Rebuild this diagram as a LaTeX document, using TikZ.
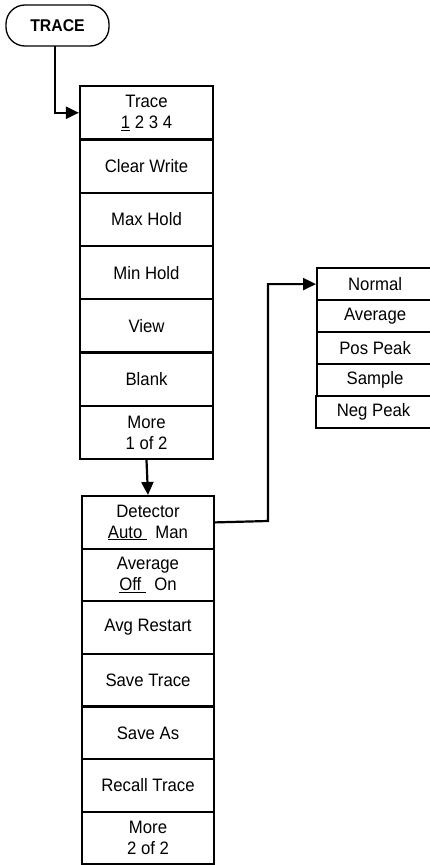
\documentclass[tikz,border=0pt]{standalone}
\usepackage{fontspec}
\setmainfont{Liberation Sans}[FakeStretch=0.93]
\usetikzlibrary{arrows.meta}
\begin{document}
\begin{tikzpicture}[x=1pt,y=-1pt,
  cellA/.style={draw,line width=2.2pt,rectangle,minimum width=133pt,minimum height=53.3pt,anchor=north,inner sep=0pt,font=\fontsize{18}{21}\selectfont,align=center},
  cellB/.style={cellA,minimum width=132pt,minimum height=52.6pt},
  cellR/.style={draw,line width=2.2pt,rectangle,minimum width=116pt,minimum height=32pt,anchor=north west,inner sep=0pt,font=\fontsize{18}{21}\selectfont,align=center},
  pill/.style={draw,line width=1.3pt,rectangle,rounded corners=19pt,minimum width=103pt,minimum height=41pt,inner sep=0pt,font=\bfseries\fontsize{17}{18}\selectfont},
  conn/.style={line width=2.2pt,-{Triangle[length=13pt,width=12pt]}}
]
\clip (0,0) rectangle (430,865);
\node[pill] (trace) at (57.5,25.5) {TRACE};
% column 1
\node[cellA] (a1) at (146.5,85) {Trace\\\underline{1} 2 3 4};
\node[cellA] (a2) at (146.5,138.3) {Clear Write};
\node[cellA] (a3) at (146.5,191.6) {Max Hold};
\node[cellA] (a4) at (146.5,244.9) {Min Hold};
\node[cellA] (a5) at (146.5,298.1) {View};
\node[cellA] (a6) at (146.5,351.4) {Blank};
\node[cellA] (a7) at (146.5,404.7) {More\\1 of 2};
% column 2
\node[cellB] (b1) at (148,495) {Detector\\\underline{Auto\hspace{5pt}}\hspace{8pt}Man};
\node[cellB] (b2) at (148,547.6) {Average\\\underline{Off\hspace{5pt}}\hspace{8pt}On};
\node[cellB] (b3) at (148,600.2) {Avg Restart};
\node[cellB] (b4) at (148,652.8) {Save Trace};
\node[cellB] (b5) at (148,705.4) {Save As};
\node[cellB] (b6) at (148,758) {Recall Trace};
\node[cellB] (b7) at (148,810.6) {More\\2 of 2};
% right column
\node[cellR] (r1) at (316,267) {Normal};
\node[cellR] (r2) at (316,299) {Average};
\node[cellR] (r3) at (316,331) {Pos Peak};
\node[cellR] (r4) at (316,363) {Sample};
\node[cellR] (r5) at (314.5,395) {Neg Peak};
% connectors
\coordinate (t0) at (55,46);
\draw[conn] (t0) |- (a1.west);
\draw[conn] (a7.south) -- (b1.north);
\coordinate (bend) at (268,521);
\draw[conn] (b1.east) -- (bend) |- (r1.west);
\end{tikzpicture}
\end{document}
